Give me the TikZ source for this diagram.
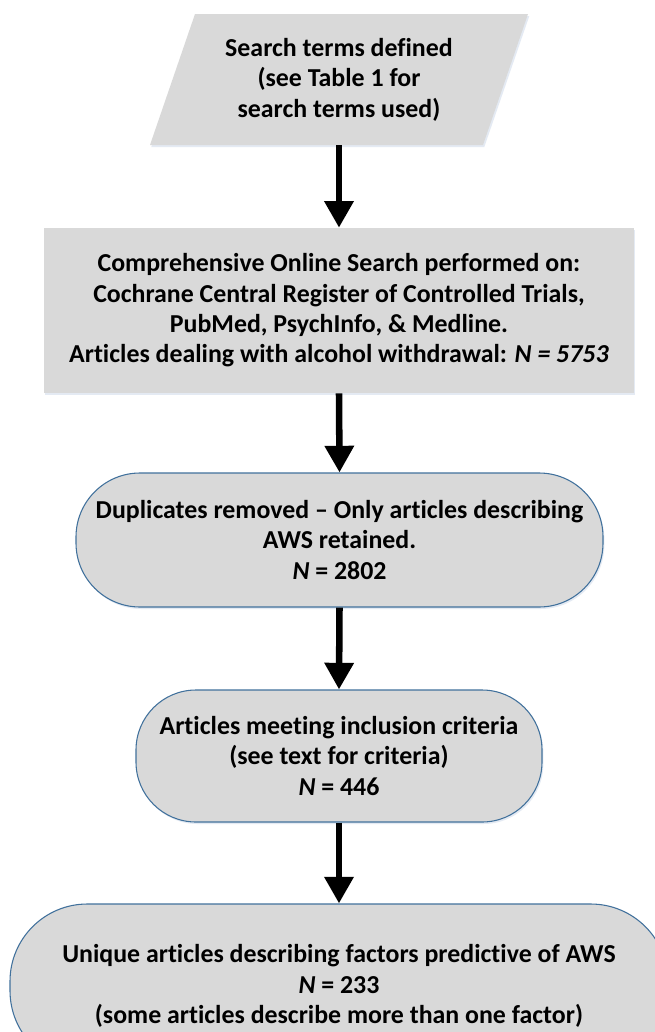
\documentclass[tikz,border=0pt]{standalone}
\usepackage{fontspec}
\setmainfont{Carlito}[Ligatures={NoCommon}]
\usetikzlibrary{arrows.meta,shadows}
\definecolor{boxgray}{HTML}{D9D9D9}
\definecolor{boxblue}{HTML}{41719C}
\definecolor{shadowc}{HTML}{D2DCEB}
\begin{document}
\begin{tikzpicture}[x=0.75pt,y=-0.75pt,
  txt/.style={align=center,font=\fontsize{19.4}{22.8}\selectfont\bfseries,text=black,inner sep=0pt},
  rectbox/.style={txt,fill=boxgray,drop shadow={shadow xshift=1pt,shadow yshift=-1.5pt,fill=shadowc,opacity=0.6}},
  roundbox/.style={txt,fill=boxgray,draw=boxblue,line width=0.8pt,drop shadow={shadow xshift=1pt,shadow yshift=-1.5pt,fill=shadowc,opacity=0.6}},
  flow/.style={line width=4.9pt,-{Triangle[width=21pt,length=20pt]}}]
\useasboundingbox (0,0) rectangle (655,1032);
\clip (0,0) rectangle (655,1032);
\fill[white] (0,0) rectangle (655,1032);
% parallelogram
\fill[shadowc,opacity=0.6] (196.3,16) -- (529.3,16) -- (484.3,147) -- (151.3,147) -- cycle;
\fill[boxgray] (195,14) -- (528,14) -- (483,145) -- (150,145) -- cycle;
\node[txt,minimum height=98.25pt] (p) at (339,79.5) {Search terms defined\\(see Table 1 for\\search terms used)};
\node[rectbox,minimum width=442.5pt,minimum height=123.75pt] (r) at (339,310.5)
  {Comprehensive Online Search performed on:\\Cochrane Central Register of Controlled Trials,\\PubMed, PsychInfo, \& Medline.\\Articles dealing with alcohol withdrawal: \textit{N = 5753}};
\node[roundbox,minimum width=395.25pt,minimum height=100.5pt,rounded corners=48pt] (b3) at (339.5,540)
  {Duplicates removed – Only articles describing\\AWS retained.\\\textit{N} = 2802};
\node[roundbox,minimum width=304.5pt,minimum height=99pt,rounded corners=45pt] (b4) at (339,756)
  {Articles meeting inclusion criteria\\(see text for criteria)\\\textit{N} = 446};
\node[roundbox,minimum width=493.5pt,minimum height=123pt,rounded corners=58pt] (b5) at (339,986)
  {Unique articles describing factors predictive of AWS\\\textit{N} = 233\\(some articles describe more than one factor)};
\draw[flow] (p.south) -- (r.north);
\draw[flow] (r.south) -- (b3.north);
\draw[flow] (b3.south) -- (b4.north);
\draw[flow] (b4.south) -- (b5.north);
\end{tikzpicture}
\end{document}
